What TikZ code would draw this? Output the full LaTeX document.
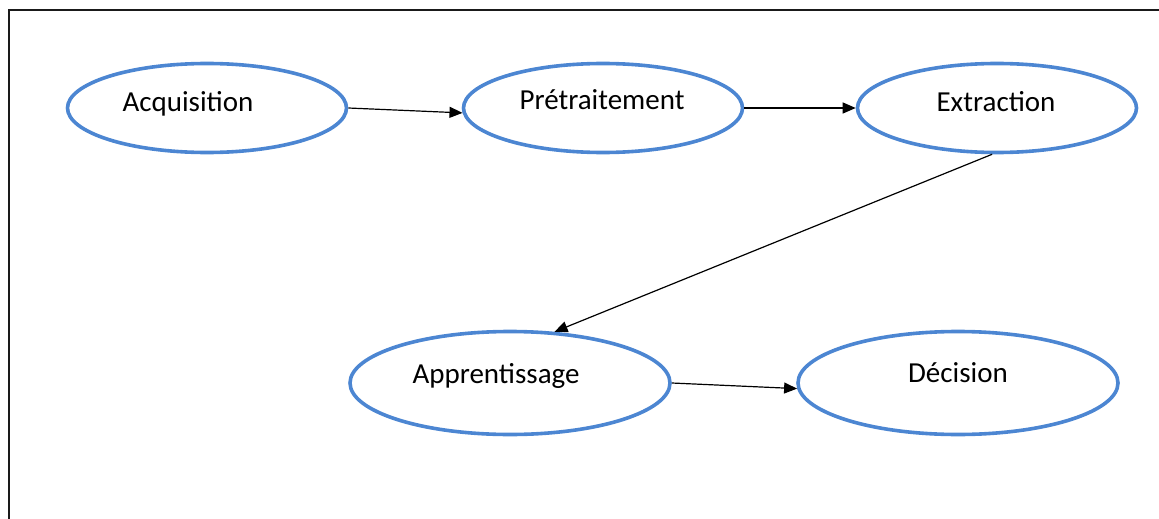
\documentclass[tikz,border=0pt]{standalone}
\usepackage{fontspec}
\setmainfont{Carlito}
\usepackage{tikz}
\usetikzlibrary{arrows.meta,positioning,shapes.geometric}
\definecolor{stageblue}{HTML}{4C86D2}
\definecolor{framegray}{HTML}{1A1A1A}

\begin{document}
\begin{tikzpicture}[x=1pt, y=-1pt,
  stage/.style    ={ellipse, draw=stageblue, line width=3.6pt, inner sep=0pt, minimum width=279pt, minimum height=89pt},
  stageBig/.style ={stage, minimum width=320pt, minimum height=103pt},
  stageLbl/.style ={font=\fontsize{29}{32}\selectfont, anchor=base, inner sep=0pt},
  flow/.style     ={-{Triangle[length=13pt, width=11pt]}, line width=1.2pt, black},
]
\useasboundingbox (0,0) rectangle (1159,519);
% frame (top and left edges only)
\draw[framegray, line width=1.8pt] (9,519) -- (9,10) -- (1159,10);

% stages, top row
\node[stage] (acq) at (207,108) {};
\node[stage] (pre) at (603,108) {};
\node[stage] (ext) at (997,108) {};
% stages, bottom row
\node[stageBig] (app) at (510,383) {};
\node[stageBig] (dec) at (958,383) {};

% labels, baselines
\node[stageLbl] (acqT) at (188,111) {Acquisition};
\node[stageLbl] (preT) at (602,110) {Prétraitement};
\node[stageLbl] (extT) at (996,111) {Extraction};
\node[stageLbl] (appT) at (496,383) {Apprentissage};
\node[stageLbl] (decT) at (958,382) {Décision};

% flow
\draw[flow] (acq.east) -- (pre.182);
\draw[flow] (pre.east) -- (ext.west);
\draw[flow] (ext.264) -- (app.49);
\draw[flow] (app.east) -- (dec.182);
\end{tikzpicture}
\end{document}
